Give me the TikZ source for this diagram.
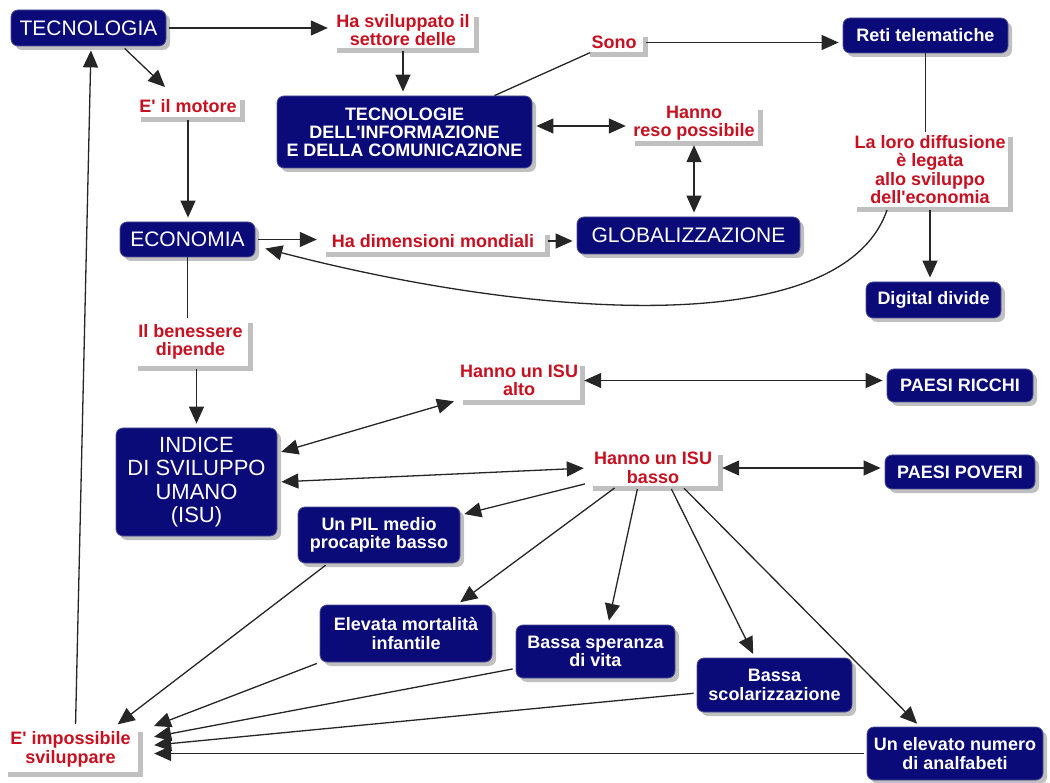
\documentclass[tikz,border=0pt]{standalone}
\usepackage{fontspec}
\setmainfont{Liberation Sans}
\usetikzlibrary{arrows.meta,shadows}
\definecolor{navy}{RGB}{10,10,120}
\definecolor{navyedge}{RGB}{80,80,150}
\definecolor{lblred}{RGB}{200,16,32}
\definecolor{shade}{RGB}{192,192,192}
\newcommand{\apo}{\textquotesingle}
\begin{document}
\begin{tikzpicture}[x=1pt,y=-1pt,
  dark/.style={draw=navyedge, line width=0.8pt, fill=navy, rounded corners=7pt, text=white, align=center, inner sep=0pt,
    font=\bfseries\fontsize{18}{18.5}\selectfont,
    drop shadow={shadow xshift=4pt, shadow yshift=-4pt, fill=shade, opacity=1}},
  big/.style={dark, font=\fontsize{21}{23}\selectfont},
  lbl/.style={fill=white, text=lblred, align=center, inner sep=0pt,
    font=\bfseries\fontsize{18}{18.5}\selectfont,
    drop shadow={shadow xshift=5pt, shadow yshift=-5pt, fill=shade, opacity=1}},
  con/.style={line width=1.3pt, draw=black!85},
  tip/.tip={Triangle[length=17pt,width=15pt]},
  arr/.style={con, -tip, shorten >=4pt, shorten <=3pt},
  darr/.style={con, tip-tip, shorten >=4pt, shorten <=4pt},
]
\fill[white] (0,0) rectangle (1050,783);
\useasboundingbox (0,0) rectangle (1050,783);

% nodes
\node[big, minimum width=155pt, minimum height=36pt] (tec) at (88.5,28) {TECNOLOGIA};
\node[lbl, minimum width=142pt, minimum height=36pt] (hasv) at (403,30) {Ha sviluppato il\\settore delle};
\node[lbl, minimum width=104pt, minimum height=22pt] (mot) at (188,106) {E\apo{} il motore};
\node[dark, minimum width=255pt, minimum height=72pt, font=\bfseries\fontsize{18}{18}\selectfont] (tic) at (404.5,132) {TECNOLOGIE\\DELL\apo INFORMAZIONE\\E DELLA COMUNICAZIONE};
\node[lbl, minimum width=58pt, minimum height=20pt] (sono) at (614,42.5) {Sono};
\node[dark, minimum width=165pt, minimum height=35pt] (reti) at (925.5,35.5) {Reti telematiche};
\node[lbl, minimum width=128pt, minimum height=36pt] (reso) at (694,123) {Hanno\\reso possibile};
\node[lbl, minimum width=156pt, minimum height=75pt] (diff) at (930,169.5) {La loro diffusione\\è legata\\allo sviluppo\\dell\apo economia};
\node[big, minimum width=135pt, minimum height=35pt] (eco) at (187.5,239.5) {ECONOMIA};
\node[lbl, minimum width=224pt, minimum height=22pt] (dim) at (433,241) {Ha dimensioni mondiali};
\node[big, minimum width=223pt, minimum height=37pt] (glob) at (688.5,235.5) {GLOBALIZZAZIONE};
\node[dark, minimum width=135pt, minimum height=36pt] (dd) at (933.5,300) {Digital divide};
\node[lbl, minimum width=115pt, minimum height=48pt] (ben) at (190.5,342) {Il benessere\\dipende};
\node[dark, minimum width=161pt, minimum height=108pt, font=\fontsize{22}{23.5}\selectfont] (isu) at (196.5,482) {INDICE\\DI SVILUPPO\\UMANO\\(ISU)};
\node[lbl, minimum width=122pt, minimum height=39pt] (alto) at (519,380.5) {Hanno un ISU\\alto};
\node[dark, minimum width=146pt, minimum height=33pt] (ricchi) at (960,385.5) {PAESI RICCHI};
\node[lbl, minimum width=130pt, minimum height=36pt] (basso) at (653,468) {Hanno un ISU\\basso};
\node[dark, minimum width=150pt, minimum height=34pt] (poveri) at (960,472) {PAESI POVERI};
\node[dark, minimum width=162pt, minimum height=56pt] (pil) at (379,535) {Un PIL medio\\procapite basso};
\node[dark, minimum width=172pt, minimum height=57pt] (elev) at (406,633.5) {Elevata mortalità\\infantile};
\node[dark, minimum width=159pt, minimum height=53pt] (sper) at (595.5,651.5) {Bassa speranza\\di vita};
\node[dark, minimum width=155pt, minimum height=54pt] (scol) at (774.5,685) {Bassa\\scolarizzazione};
\node[dark, minimum width=176pt, minimum height=53pt] (anal) at (955,753.5) {Un elevato numero\\di analfabeti};
\node[lbl, minimum width=135pt, minimum height=45pt] (imp) at (70.5,749.5) {E\apo{} impossibile\\sviluppare};

% connectors
\draw[arr] (tec.east) -- (tec.east -| hasv.west);
\draw[arr] (hasv.south) -- (hasv.south |- tic.north);
\draw[arr] ([xshift=34pt]tec.south) -- ([xshift=-20pt,yshift=5pt]mot.north);
\draw[arr] (mot.south) -- (mot.south |- eco.north);
\draw[con] ([xshift=90pt]tic.north) -- ([xshift=-24pt]sono.south);
\draw[arr] (sono.east) -- (sono.east -| reti.west);
\draw[darr] ([yshift=6pt]tic.east) -- ([yshift=6pt]tic.east -| reso.west);
\draw[darr] (reso.south) -- (reso.south |- glob.north);
\draw[arr] (eco.east) -- (eco.east -| dim.west);
\draw[arr] (dim.east) -- (dim.east -| glob.west);
\draw[con] (reti.south) -- (reti.south |- diff.north);
\draw[arr] (diff.south) -- (diff.south |- dd.north);
\draw[arr] ([xshift=-42pt]diff.south) .. controls (840,345) and (520,315) .. ([xshift=6pt,yshift=-8pt]eco.east);
\draw[con] (eco.south) -- (eco.south |- ben.north);
\draw[arr] (isu.north |- ben.south) -- (isu.north);
\draw[darr] ([yshift=29pt]isu.east) -- (alto.south west);
\draw[darr] (isu.east) -- (basso.west);
\draw[darr] (alto.east) -- (alto.east -| ricchi.west);
\draw[darr] (basso.east) -- (basso.east -| poveri.west);
\draw[arr] ([yshift=3pt]basso.south west) -- ([yshift=20pt]pil.east);
\draw[arr] ([xshift=-36pt]basso.south) -- ([xshift=51pt]elev.north);
\draw[arr] ([xshift=-15pt]basso.south) -- ([xshift=12.5pt]sper.north);
\draw[arr] ([xshift=17pt]basso.south) -- ([xshift=-19.5pt]scol.north);
\draw[arr] ([xshift=29pt]basso.south) -- ([xshift=-35pt]anal.north);
\draw[arr] ([xshift=-51pt]pil.south) -- ([xshift=44pt]imp.north);
\draw[arr] (elev.south west) -- ([xshift=12pt,yshift=22pt]imp.east);
\draw[arr] ([yshift=10pt]sper.south west) -- ([xshift=12pt,yshift=12pt]imp.east);
\draw[arr] ([yshift=-8pt]scol.west) -- ([xshift=12pt,yshift=4pt]imp.east);
\draw[arr] (anal.west) -- ([xshift=12pt,yshift=-4pt]imp.east);
\draw[arr] ([xshift=5pt]imp.north) -- ([xshift=2.5pt]tec.south);
\end{tikzpicture}
\end{document}
